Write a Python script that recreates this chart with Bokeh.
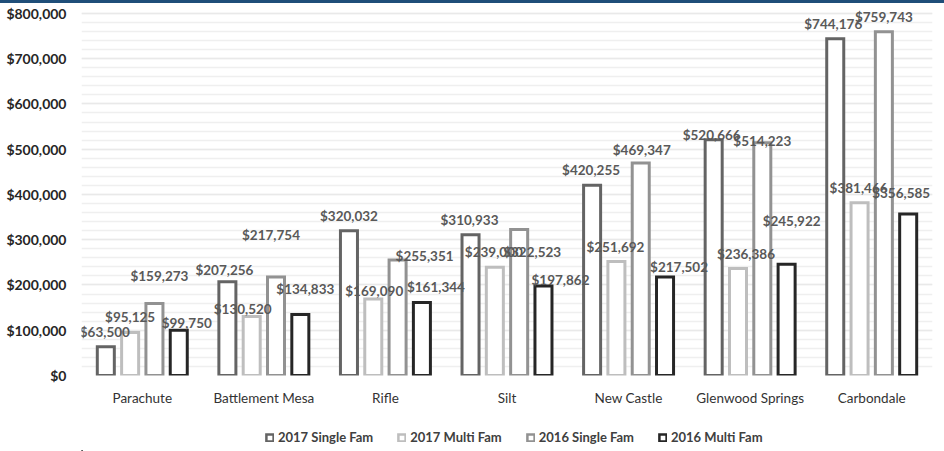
from bokeh.plotting import figure
from bokeh.models import (ColumnDataSource, FactorRange, SingleIntervalTicker,
                          NumeralTickFormatter, Legend, LegendItem, Div, Range1d)
from bokeh.transform import dodge
from bokeh.layouts import column
from bokeh.embed import file_html
from bokeh.resources import INLINE
from bokeh.core.properties import value

# ---------------- data ----------------
categories = ["Parachute", "Battlement Mesa", "Rifle", "Silt", "New Castle",
              "Glenwood Springs", "Carbondale"]
series_names = ["2017 Single Fam", "2017 Multi Fam", "2016 Single Fam", "2016 Multi Fam"]
single_2017 = [63500, 207256, 320032, 310933, 420255, 520666, 744176]
multi_2017 = [95125, 130520, 169090, 239000, 251692, 236386, 381466]
single_2016 = [159273, 217754, 255351, 322523, 469347, 514223, 759743]
multi_2016 = [99750, 134833, 161344, 197862, 217502, 245922, 356585]

# label placement (pixels, relative to top-centre of each bar)
label_dx = [
    [-1, -3, 0, -1, -1, -2, -2],
    [0, -9, 1, -1, -1, 8, -1],
    [5, -5, 27, 13, 1, 0, 0],
    [8, 5, 14, 17, 14, 5, -7],
]
label_dy = [
    [15, 12, 15, 15, 15, 5, 15],
    [15, 7, 8, 15, 15, 15, 15],
    [27, 42, 4, -22, 13, 2, 15],
    [7, 25, 15, 6, 10, 43, 21],
]

colors = ["#646464", "#BEBEBE", "#929292", "#262626"]
offsets = [-0.3, -0.1, 0.1, 0.3]
all_values = [single_2017, multi_2017, single_2016, multi_2016]

FONT = "Lato"

p = figure(x_range=FactorRange(factors=categories, range_padding=0),
           y_range=Range1d(0, 817500),
           width=944, height=420, output_backend="svg", toolbar_location=None,
           min_border_left=81, min_border_right=12, min_border_top=2,
           min_border_bottom=48, margin=0)
p.outline_line_color = None
p.background_fill_color = "white"
p.border_fill_color = "white"

bar_renderers = []
for i, vals in enumerate(all_values):
    src = ColumnDataSource(dict(cat=categories, val=vals))
    r = p.vbar(x=dodge("cat", offsets[i], range=p.x_range), top="val", width=0.14,
               bottom=0, source=src, fill_color="white", line_color=colors[i],
               line_width=3, line_join="miter")
    bar_renderers.append(r)

for i, vals in enumerate(all_values):
    src = ColumnDataSource(dict(cat=categories, val=vals,
                                lab=["${:,}".format(v) for v in vals],
                                dx=label_dx[i], ndy=[-d for d in label_dy[i]]))
    p.text(x=dodge("cat", offsets[i], range=p.x_range), y="val", text="lab",
           x_offset="dx", y_offset="ndy", source=src,
           text_align="center", text_baseline="middle",
           text_font=value(FONT), text_font_style="bold",
           text_font_size="13.5px", text_color="#595959")

# axes
p.yaxis.ticker = SingleIntervalTicker(interval=100000, num_minor_ticks=5)
p.yaxis.formatter = NumeralTickFormatter(format="$0,0")
p.yaxis.axis_line_color = None
p.yaxis.major_tick_line_color = None
p.yaxis.minor_tick_line_color = None
p.yaxis.major_tick_in = 0
p.yaxis.major_tick_out = 0
p.yaxis.major_label_standoff = 11
p.yaxis.major_label_text_font = FONT
p.yaxis.major_label_text_font_style = "bold"
p.yaxis.major_label_text_font_size = "14px"
p.yaxis.major_label_text_color = "#262626"

p.xaxis.axis_line_color = None
p.xaxis.major_tick_line_color = None
p.xaxis.minor_tick_line_color = None
p.xaxis.major_tick_in = 0
p.xaxis.major_tick_out = 0
p.xaxis.major_label_standoff = 14
p.xaxis.major_label_text_font = FONT
p.xaxis.major_label_text_font_size = "13.5px"
p.xaxis.major_label_text_color = "#333333"

p.xgrid.grid_line_color = None
p.ygrid.grid_line_color = "#E9E9E9"
p.ygrid.grid_line_width = 1.5
p.ygrid.minor_grid_line_color = "#EFEFEF"
p.ygrid.minor_grid_line_width = 1.5

# ---------------- legend strip ----------------
lf = figure(width=944, height=28, output_backend="svg", toolbar_location=None,
            x_range=Range1d(0, 1), y_range=Range1d(0, 1),
            x_axis_location=None, y_axis_location=None,
            min_border=0, min_border_left=0, min_border_right=0,
            min_border_top=0, min_border_bottom=0, margin=0)
lf.grid.visible = False
lf.outline_line_color = None
lf.background_fill_color = "white"
lf.border_fill_color = "white"
leg_renderers = []
for i in range(4):
    # legend proxies: a zero-size bar each, kept far outside the visible range
    proxy = ColumnDataSource(dict(x=[-100], top=[-100]))
    r = lf.vbar(x="x", top="top", bottom=-100, width=0.0, source=proxy,
                fill_color="white", line_color=colors[i], line_width=2.5,
                line_join="miter")
    leg_renderers.append(r)

legend = Legend(items=[LegendItem(label=series_names[i], renderers=[leg_renderers[i]])
                       for i in range(4)],
                orientation="horizontal", location=(184, 6),
                glyph_width=9, glyph_height=9, label_standoff=4, spacing=24,
                padding=0, margin=0, border_line_color=None,
                background_fill_alpha=0, label_height=14,
                label_text_font=FONT, label_text_font_style="bold",
                label_text_font_size="13px", label_text_color="#404040")
lf.add_layout(legend, "center")

bar = Div(text="", width=944, height=3, margin=0,
          styles={"background-color": "#1F4E79"})
layout = column(bar, p, lf, spacing=0, margin=0)

open("out.html", "w").write(file_html(layout, INLINE))
